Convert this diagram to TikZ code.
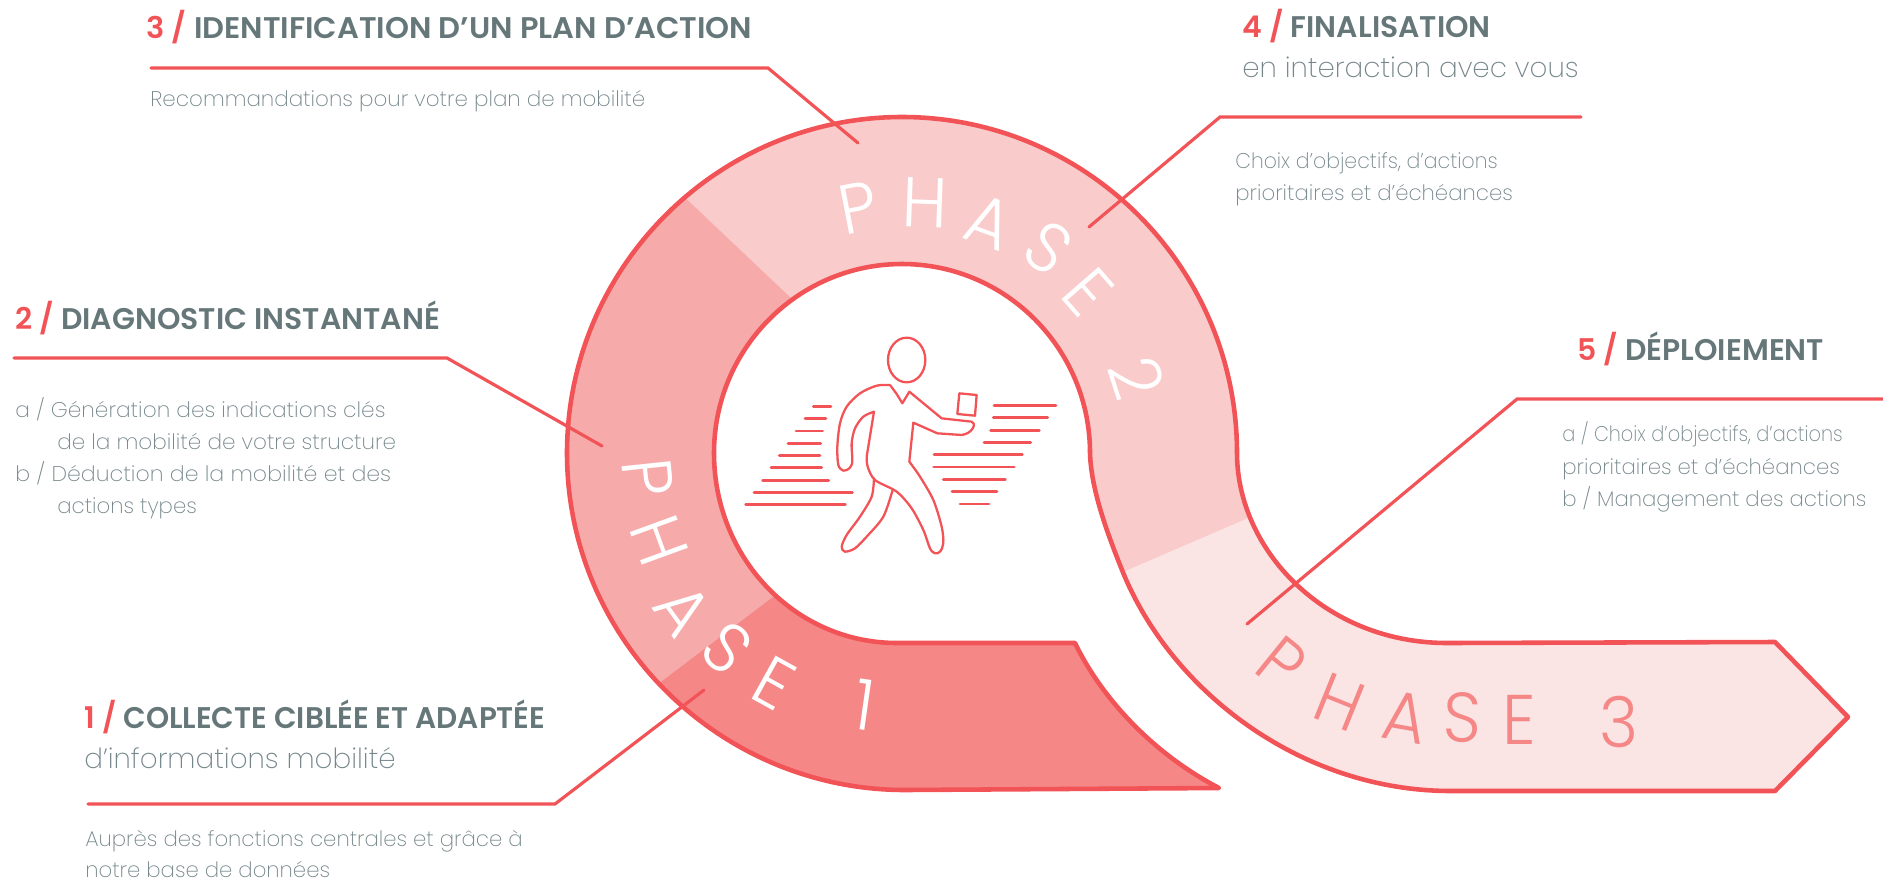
\documentclass[tikz,border=0pt]{standalone}
\usepackage{fontspec}
\setmainfont{Poppins}
\newfontfamily\headFont[UprightFont=* SemiBold]{Poppins}
\newfontfamily\bodyFont[UprightFont=* ExtraLight]{Poppins}
\newfontfamily\phaseFont[UprightFont=* Light]{Poppins}
\definecolor{lineRed}{HTML}{F15357}
\definecolor{bandA}{HTML}{F58787}
\definecolor{bandB}{HTML}{F6AAAA}
\definecolor{bandC}{HTML}{FACBCB}
\definecolor{bandD}{HTML}{FBE4E4}
\definecolor{headGrey}{HTML}{66777A}
\definecolor{bodyGrey}{HTML}{76878B}
\tikzset{%
	outline/.style={
		draw=lineRed,
		line width=2.6pt,
		line join=round
	},
	leader/.style={
		draw=lineRed,
		line width=1.8pt,
		line cap=round
	},
	headtext/.style={
		anchor=base west,
		inner sep=0pt,
		text=headGrey,
		font=\headFont\fontsize{17pt}{18pt}\selectfont
	},
	subtext/.style={
		anchor=base west,
		inner sep=0pt,
		text=bodyGrey,
		font=\bodyFont\fontsize{15.8pt}{18pt}\selectfont
	},
	bodytext/.style={
		anchor=base west,
		inner sep=0pt,
		text=bodyGrey,
		font=\bodyFont\fontsize{12.1pt}{14pt}\selectfont
	},
	phaseletter/.style={
		anchor=center,
		inner sep=0pt,
		font=\phaseFont\fontsize{40pt}{40pt}\selectfont
	},
	icon/.style={
		draw=lineRed,
		line width=1.3pt,
		line join=round,
		line cap=round
	},
}
\newcommand{\stepNum}[1]{\textcolor{lineRed}{#1 /}}

\begin{document}
\begin{tikzpicture}[x=0.02cm,y=-0.02cm]
	\useasboundingbox (0,0) rectangle (1883,880);

	% The whole ribbon, from the tip of the tail round to the arrow and back
	\newcommand{\ribbonPath}{
		(1219,788) -- (905,790)
		.. controls (720,790) and (567,640) .. (567,453)
		.. controls (567,268) and (717,117) .. (902,117)
		.. controls (1087,117) and (1237,268) .. (1237,453)
		.. controls (1237,550) and (1325,643) .. (1447,643)
		-- (1775,642) -- (1848,717) -- (1775,791) -- (1451,791)
		.. controls (1300,791) and (1170,690) .. (1122,570)
		.. controls (1108,535) and (1091,490) .. (1090,453)
		.. controls (1090,349) and (1006,264) .. (902,264)
		.. controls (798,264) and (714,349) .. (714,453)
		.. controls (714,558) and (795,643) .. (897,643)
		-- (1075,643)
		.. controls (1100,695) and (1150,752) .. (1219,788) -- cycle
	}

	% Fills: the lightest part first, then the others clipped to their side
	\fill[bandC] \ribbonPath;
	\begin{scope}
		\clip (640,155) -- (830,335) -- (830,820) -- (500,820) -- (500,155) -- cycle;
		\fill[bandB] \ribbonPath;
	\end{scope}
	\begin{scope}
		\clip (810,569) -- (1085,600) -- (1240,800) -- (1240,880) -- (560,880) -- (620,713) -- cycle;
		\fill[bandA] \ribbonPath;
	\end{scope}
	\begin{scope}
		\clip (1100,582) -- (1290,500) -- (1883,500) -- (1883,880) -- (1300,880) -- (1215,740) -- cycle;
		\fill[bandD] \ribbonPath;
	\end{scope}
	\path[outline] \ribbonPath;

	% Letters along the ribbon
	\foreach \ltr/\px/\py/\rot [count=\i] in {P/648/478/-84,H/659/540/-70,A/683/610/-54,S/727/648/-42,E/774/683/-29,1/865/705/-8} {
		\node[phaseletter,text=white,rotate=\rot,xscale=0.95] (phaseOne\i) at (\px,\py) {\ltr};
	}
	\foreach \ltr/\px/\py/\rot [count=\i] in {P/858/208/11,H/925/203/-2,A/989/222/-20,S/1048/248/-36,E/1088/292/-49,2/1137/378/-72} {
		\node[phaseletter,text=white,rotate=\rot,xscale=0.95] (phaseTwo\i) at (\px,\py) {\ltr};
	}
	\foreach \ltr/\px/\py/\rot [count=\i] in {P/1282/663/-39,H/1340/702/-22,A/1405/717/-10,S/1462/718/-2,E/1519/720/0,3/1619/722/0} {
		\node[phaseletter,text=bandA,rotate=\rot,xscale=0.95] (phaseThree\i) at (\px,\py) {\ltr};
	}

	% Leader lines
	\coordinate (lineThreeA) at (151,68);
	\coordinate (lineThreeB) at (768,68);
	\coordinate (lineThreeC) at (858,143);
	\coordinate (lineFourA) at (1581,117);
	\coordinate (lineFourB) at (1220,117);
	\coordinate (lineFourC) at (1089,227);
	\coordinate (lineTwoA) at (14,358);
	\coordinate (lineTwoB) at (447,358);
	\coordinate (lineTwoC) at (602,446);
	\coordinate (lineFiveA) at (1883,399);
	\coordinate (lineFiveB) at (1517,399);
	\coordinate (lineFiveC) at (1247,624);
	\coordinate (lineOneA) at (88,804);
	\coordinate (lineOneB) at (555,804);
	\coordinate (lineOneC) at (704,690);
	\draw[leader] (lineThreeA) -- (lineThreeB) -- (lineThreeC);
	\draw[leader] (lineFourA) -- (lineFourB) -- (lineFourC);
	\draw[leader] (lineTwoA) -- (lineTwoB) -- (lineTwoC);
	\draw[leader] (lineFiveA) -- (lineFiveB) -- (lineFiveC);
	\draw[leader] (lineOneA) -- (lineOneB) -- (lineOneC);

	% Texts
	\node[headtext,xscale=1.022] (headThree) at (146,38) {\stepNum{3} IDENTIFICATION D’UN PLAN D’ACTION};
	\node[bodytext,xscale=1.01] (bodyThree) at (150,106) {Recommandations pour votre plan de mobilité};
	\node[headtext] (headFour) at (1242,37) {\stepNum{4} FINALISATION};
	\node[subtext] (subFour) at (1242,77) {en interaction avec vous};
	\node[bodytext,xscale=0.96] (bodyFourA) at (1235,168) {Choix d’objectifs, d’actions};
	\node[bodytext] (bodyFourB) at (1235,200) {prioritaires et d’échéances};
	\node[headtext] (headTwo) at (15,329) {\stepNum{2} DIAGNOSTIC INSTANTANÉ};
	\node[bodytext,xscale=1.02] (bodyTwoA) at (15,417) {a / Génération des indications clés};
	\node[bodytext,xscale=1.015] (bodyTwoB) at (57,449) {de la mobilité de votre structure};
	\node[bodytext,xscale=1.04] (bodyTwoC) at (15,481) {b / Déduction de la mobilité et des};
	\node[bodytext] (bodyTwoD) at (57,513) {actions types};
	\node[headtext] (headFive) at (1577,360) {\stepNum{5} DÉPLOIEMENT};
	\node[bodytext,xscale=0.91] (bodyFiveA) at (1562,441) {a / Choix d’objectifs, d’actions};
	\node[bodytext] (bodyFiveB) at (1562,474) {prioritaires et d’échéances};
	\node[bodytext] (bodyFiveC) at (1562,506) {b / Management des actions};
	\node[headtext,xscale=0.987] (headOne) at (84,728) {\stepNum{1} COLLECTE CIBLÉE ET ADAPTÉE};
	\node[subtext] (subOne) at (84,768) {d’informations mobilité};
	\node[bodytext] (bodyOneA) at (85,846) {Auprès des fonctions centrales et grâce à};
	\node[bodytext] (bodyOneB) at (85,877) {notre base de données};

	% Walking figure
	\begin{scope}[shift={(700,300)},x=0.00667cm,y=-0.00667cm]
		\draw[icon] (620,180) ellipse [x radius=56,y radius=67];
		\draw[icon] plot[smooth,tension=0.4] coordinates {(570,255) (590,282) (607,310)} -- (628,275) -- (725,355) -- (815,365)
			.. controls (830,368) and (820,400) .. (785,405) -- (712,400) -- (640,368) -- (628,485)
			plot[smooth,tension=0.5] coordinates {(628,485) (660,530) (700,600) (725,680) (730,730) (720,755) (705,760) (690,745) (670,690) (635,625) (590,575) (525,540) (503,500) (500,470)}
			-- (522,335)
			plot[smooth,tension=0.5] coordinates {(522,335) (490,350) (465,385) (455,430) (457,485) (448,505) (430,512) (415,495) (412,440) (420,370) (440,320) (480,280) (530,257) (570,255)};
		\draw[icon] plot[smooth,tension=0.5] coordinates {(522,535) (515,590) (480,650) (440,705) (425,740) (435,755) (465,745) (500,710) (550,650) (578,570)};
		\draw[icon] (778,280) -- (830,285) -- (825,347) -- (772,342) -- cycle;
		\foreach \yy/\xa/\xb in {319/340/393,355/315/378,393/288/368,430/264/362,466/238/360,503/213/365,541/188/386,577/162/457,614/137/436,316/882/1068,353/880/1043,391/872/1018,427/852/992,464/702/967,501/701/943,538/730/916,575/756/891,612/780/867} {
			\draw[icon,line width=1.6pt] (\xa,\yy) -- (\xb,\yy);
		}
	\end{scope}
\end{tikzpicture}
\end{document}
